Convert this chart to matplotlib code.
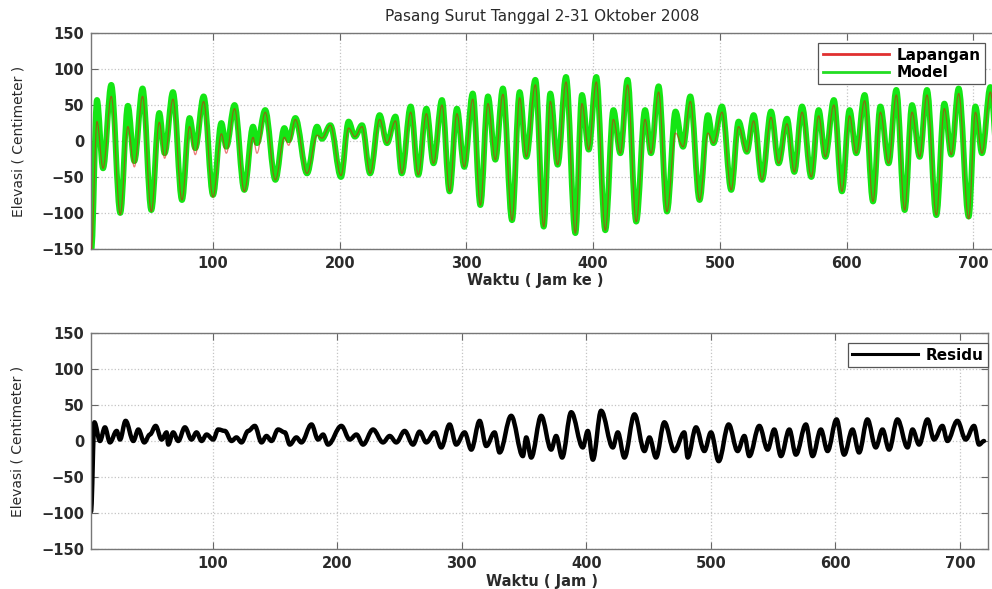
import matplotlib
matplotlib.use("Agg")
import matplotlib.pyplot as plt
from matplotlib.lines import Line2D
from matplotlib.path import Path
from matplotlib.patches import PathPatch

# Pasang surut Oktober 2008 - titik ekstrem (jam, cm)
jam_model = [4, 8.4, 13.2, 19.7, 26.8, 32.8, 37.9, 44.4, 51.3, 57.6,
             61.8, 68.4, 75.5, 81.5, 86, 92.6, 100, 106.6, 110.5, 117,
             124.7, 131.6, 134.7, 141.2, 149.2, 156.3, 159.7, 165, 174.2, 182.1,
             186, 192.6, 201, 207, 212, 217.6, 224, 231.5, 237.3, 244,
             249, 256, 262, 268.4, 274, 280.7, 286.7, 292.5, 298.3, 305,
             311, 317, 322.8, 328.8, 336, 342, 347.3, 354.4, 361, 366.2,
             372, 378.6, 386, 391.2, 396.5, 402.5, 409.6, 416, 421.5, 427.2,
             434, 441, 445.7, 451.7, 458.3, 465, 471, 476.7, 484, 490.6,
             495, 501.7, 509, 514.8, 521.4, 526.7, 533.3, 540.4, 546.4, 553,
             558.8, 564.9, 572.2, 578, 583.3, 590, 596.4, 602.4, 607.7, 614.3,
             620.9, 626.7, 633.2, 639.3, 645.9, 651.7, 657.7, 663.5, 670.9, 677.2,
             682.7, 688.5, 696.4, 701.7, 706.9, 713.5, 720]

model = [-150, 57, -38, 78, -100, 49, -28, 73, -96, 39,
         -17, 68, -82, 32, -10, 62, -75, 25, -8, 50,
         -68, 20, -3, 43, -54, 18, 1, 32, -45, 20,
         3, 22, -50, 27, 6, 22, -45, 36, -3, 34,
         -45, 48, -47, 45, -31, 57, -70, 45, -36, 66,
         -89, 62, -26, 73, -110, 68, -22, 85, -119, 66,
         -33, 89, -128, 64, -12, 89, -124, 43, -17, 85,
         -112, 43, -17, 76, -98, 41, -8, 62, -82, 36,
         -3, 48, -68, 27, -15, 36, -54, 41, -31, 31,
         -43, 48, -50, 43, -22, 57, -70, 43, -17, 64,
         -84, 48, -31, 71, -96, 50, -22, 71, -103, 52,
         -19, 73, -105, 48, -17, 75, -40]

lapangan = [-150, 27, -38, 62, -102, 20, -36, 62, -98, 26,
            -24, 58, -82, 20, -19, 55, -78, 10, -17, 45,
            -70, 5, -17, 40, -54, 5, -6, 30, -45, 8,
            4, 22, -48, 18, 6, 20, -45, 30, -3, 28,
            -45, 40, -47, 38, -31, 50, -70, 38, -36, 58,
            -89, 52, -26, 65, -110, 60, -22, 78, -119, 55,
            -33, 82, -128, 52, -12, 82, -124, 30, -17, 78,
            -112, 30, -17, 68, -98, 11, -8, 55, -82, 11,
            -3, 40, -68, 20, -15, 28, -54, 33, -31, 24,
            -43, 40, -50, 35, -22, 50, -70, 35, -17, 56,
            -84, 40, -31, 64, -96, 40, -22, 64, -103, 45,
            -19, 66, -108, 40, -17, 68, -40]

jam_residu = [2.4, 5.1, 9.6, 13.6, 17.6, 23, 25.7, 30.2, 36.4, 40.4,
              45.2, 49.7, 54.3, 59.1, 63.1, 64.4, 68.4, 72.4, 77.8, 83.1,
              87.1, 91.2, 95.2, 100.5, 104.5, 109.9, 115.2, 119.2, 123.2, 128.6,
              133.9, 139.3, 143.3, 147.3, 152.6, 158, 162, 167.3, 171.3, 179.4,
              184.7, 188.7, 192.7, 203.4, 210.1, 215.5, 220.8, 228.8, 236.8, 242.2,
              247.5, 254.2, 260.9, 266.2, 271.6, 278.3, 283.6, 290.3, 295.6, 302.3,
              307.7, 314.4, 319.7, 326.4, 330.4, 339.7, 349.1, 351.8, 355.8, 363.8,
              371.8, 375.8, 380.6, 387.9, 397.2, 401.2, 405.3, 411.9, 421.3, 425.3,
              430.6, 438.7, 446.7, 450.7, 456, 462.7, 470.7, 478.7, 481.4, 488.1,
              494.8, 500.1, 506.3, 514.3, 521.5, 526.9, 530.9, 538.9, 545.6, 550.9,
              556.3, 563, 568.3, 576.3, 581.7, 588.3, 593.7, 600.9, 607, 613.7,
              619, 625.7, 632.4, 637.8, 643.1, 649.8, 657.9, 661.9, 667.2, 673.9,
              679.2, 685.9, 689.9, 697.9, 704.6, 711.3, 715.3, 719.3]

residu = [-98, 26, 0, 19, -2, 14, 2, 28, 0, 16,
          -2, 9, 21, 2, 12, -5, 12, 0, 19, 2,
          12, 0, 9, 2, 16, 14, 0, 5, -2, 14,
          21, -2, 7, 0, 16, 12, -5, 5, -2, 23,
          2, 9, -5, 21, 2, 9, -5, 16, -2, 7,
          -2, 14, -5, 13, -2, 12, -9, 23, -5, 12,
          -12, 28, -7, 12, -16, 35, -21, 5, -23, 35,
          -12, 7, -23, 40, -9, 14, -26, 42, -9, 12,
          -23, 37, -14, 5, -23, 26, -14, 12, -23, 19,
          -14, 12, -28, 23, -14, 7, -21, 21, -12, 16,
          -21, 16, -19, 23, -21, 16, -14, 30, -19, 16,
          -16, 30, -9, 16, -12, 30, -9, 16, -5, 30,
          2, 21, 0, 28, 2, 21, -5, 0]

y_ticks = [-150, -100, -50, 0, 50, 100, 150]
x_ticks = [100, 200, 300, 400, 500, 600, 700]

FONT = "DejaVu Sans"
W, H = 992, 589


def smooth_line(ax, t, v, **kw):
    # kurva halus lewat titik ekstrem (garis singgung datar di puncak/lembah)
    verts = [(t[0], v[0])]
    codes = [Path.MOVETO]
    for i in range(len(t) - 1):
        dt = t[i + 1] - t[i]
        verts += [(t[i] + 0.36 * dt, v[i]), (t[i + 1] - 0.36 * dt, v[i + 1]), (t[i + 1], v[i + 1])]
        codes += [Path.CURVE4] * 3
    patch = PathPatch(Path(verts, codes), fill=False, capstyle="round", joinstyle="round", **kw)
    ax.add_patch(patch)
    return patch


def style_axis(ax, xlim):
    ax.set_xlim(*xlim)
    ax.set_ylim(-150, 150)
    ax.set_xticks(x_ticks)
    ax.set_yticks(y_ticks)
    ax.grid(True, color="#c4c4c4", linestyle=":", linewidth=0.9)
    ax.set_axisbelow(True)
    ax.tick_params(direction="in", top=True, right=True, length=5, width=0.8,
                   color="#666666", pad=5, labelsize=10.5, labelcolor="#2a2a2a")
    for lab in ax.get_xticklabels() + ax.get_yticklabels():
        lab.set_fontfamily(FONT)
        lab.set_fontweight("bold")
    for sp in ax.spines.values():
        sp.set_color("#777777")
        sp.set_linewidth(1.0)
    ax.set_ylabel("Elevasi ( Centimeter )", fontsize=10, family=FONT, color="#2a2a2a")


fig = plt.figure(figsize=(W / 100, H / 100), dpi=100)
fig.patch.set_facecolor("white")

# panel atas: data lapangan vs model
ax1 = fig.add_axes([91 / W, 1 - 249 / H, 913.9 / W, 216 / H])
smooth_line(ax1, jam_model, model, edgecolor="#14e614", linewidth=4.2, zorder=2)
smooth_line(ax1, jam_model, lapangan, edgecolor="#e01010", linewidth=0.9, alpha=0.55, zorder=3)
style_axis(ax1, (3.7, 725))
ax1.yaxis.set_label_coords(-0.072, 0.5)
ax1.set_xlabel("Waktu ( Jam ke )", fontsize=10.5, family=FONT, fontweight="bold", color="#2a2a2a")
ax1.xaxis.set_label_coords(0.486, -0.145)
ax1.xaxis.label.set_va("center")

handles = [Line2D([], [], color="#e03030", linewidth=2),
           Line2D([], [], color="#22dd22", linewidth=2)]
leg1 = fig.legend(handles, ["Lapangan", "Model"], loc="upper right",
                  bbox_to_anchor=(985 / W, 1 - 43 / H), bbox_transform=fig.transFigure,
                  borderaxespad=0, fancybox=False, framealpha=1, edgecolor="#555555",
                  handlelength=4.3, handletextpad=0.5, labelspacing=0.15, borderpad=0.3,
                  prop={"family": FONT, "weight": "bold", "size": 11})
leg1.get_frame().set_linewidth(0.9)

# panel bawah: residu
ax2 = fig.add_axes([91 / W, 1 - 549 / H, 897 / W, 216 / H])
smooth_line(ax2, jam_residu, residu, edgecolor="black", linewidth=3.2)
style_axis(ax2, (2.4, 722.5))
ax2.yaxis.set_label_coords(-0.0736, 0.5)
ax2.set_xlabel("Waktu ( Jam )", fontsize=10.5, family=FONT, fontweight="bold", color="#2a2a2a")
ax2.xaxis.set_label_coords(0.503, -0.15)
ax2.xaxis.label.set_va("center")

leg2 = ax2.legend([Line2D([], [], color="black", linewidth=2.2)], ["Residu"],
                  loc="upper right", bbox_to_anchor=(1.0, 1 - 10 / 216), borderaxespad=0,
                  fancybox=False, framealpha=1, edgecolor="#555555",
                  handlelength=4.3, handletextpad=0.5, borderpad=0.3,
                  prop={"family": FONT, "weight": "bold", "size": 11})
leg2.get_frame().set_linewidth(0.9)

fig.text(542 / W, 1 - 17 / H, "Pasang Surut Tanggal 2-31 Oktober 2008",
         ha="center", va="center", fontsize=11, family=FONT, color="#2a2a2a")

fig.savefig("out.png", dpi=100)
